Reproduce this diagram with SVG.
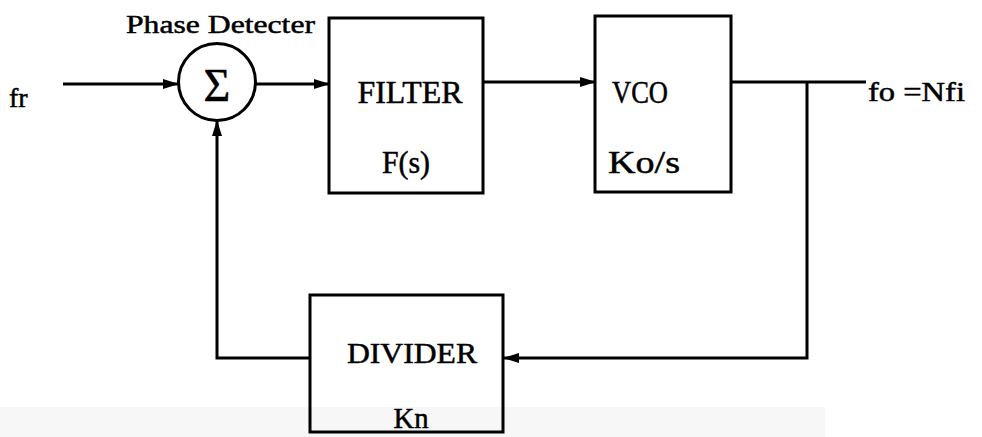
<svg xmlns="http://www.w3.org/2000/svg" width="982" height="437" viewBox="0 0 982 437">
<style>
.box{fill:none;stroke:#000;stroke-width:3}
.ln{fill:none;stroke:#000;stroke-width:3}
.t{font-family:"Liberation Serif","Times New Roman",serif;fill:#000;stroke:#000;stroke-width:0.5}
</style>
<defs>
<marker id="ahl" markerWidth="16" markerHeight="12" refX="15" refY="6" orient="auto" markerUnits="userSpaceOnUse">
<path d="M0,1 L16,6 L0,11 Z" fill="#000"/>
</marker>
</defs>
<rect x="0" y="407" width="825" height="30" fill="#f7f7f7"/>
<g id="connectors">
<line class="ln" x1="63" y1="84" x2="178" y2="84" marker-end="url(#ahl)"/>
<line class="ln" x1="256" y1="84" x2="329" y2="84" marker-end="url(#ahl)"/>
<line class="ln" x1="483" y1="82" x2="595" y2="82" marker-end="url(#ahl)"/>
<polyline class="ln" points="731,82 866,82"/>
<polyline class="ln" points="807,82 807,358 504,358" marker-end="url(#ahl)"/>
<polyline class="ln" points="310,358 217,358 217,121" marker-end="url(#ahl)"/>
</g>
<g id="input">
<text class="t" x="9" y="107" font-size="28">fr</text>
</g>
<g id="phase-detector">
<text class="t" x="126" y="33" font-size="26" textLength="189" lengthAdjust="spacingAndGlyphs">Phase Detecter</text>
<circle cx="217" cy="82" r="38.5" fill="none" stroke="#000" stroke-width="3"/>
<text class="t" x="217" y="101" font-size="46" text-anchor="middle">Σ</text>
</g>
<g id="filter">
<rect class="box" x="329" y="18" width="154" height="175"/>
<text class="t" x="410" y="103" font-size="31" text-anchor="middle" textLength="105" lengthAdjust="spacingAndGlyphs">FILTER</text>
<text class="t" x="406" y="173" font-size="31" text-anchor="middle" textLength="48" lengthAdjust="spacingAndGlyphs">F(s)</text>
</g>
<g id="vco">
<rect class="box" x="595" y="16" width="136" height="176"/>
<text class="t" x="640" y="103" font-size="31" text-anchor="middle" textLength="56" lengthAdjust="spacingAndGlyphs">VCO</text>
<text class="t" x="644" y="173" font-size="31" text-anchor="middle" textLength="72" lengthAdjust="spacingAndGlyphs">Ko/s</text>
</g>
<g id="output">
<text class="t" x="868" y="101" font-size="27" textLength="97" lengthAdjust="spacingAndGlyphs">fo =Nfi</text>
</g>
<g id="divider">
<rect class="box" x="310" y="295" width="193" height="137"/>
<text class="t" x="412" y="363" font-size="30" text-anchor="middle" textLength="130" lengthAdjust="spacingAndGlyphs">DIVIDER</text>
<text class="t" x="411" y="428" font-size="30" text-anchor="middle" textLength="35" lengthAdjust="spacingAndGlyphs">Kn</text>
</g>
</svg>
